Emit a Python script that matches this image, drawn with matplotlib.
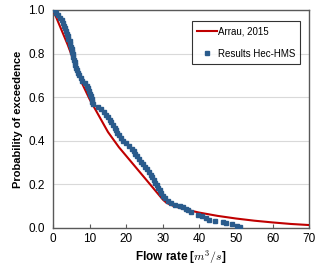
"Flow duration curve: Arrau 2015 vs Hec-HMS results"

import matplotlib
matplotlib.use("Agg")
import matplotlib.pyplot as plt

# Arrau, 2015 curve
arrau_flow = [0, 2, 4, 6, 8, 10, 12, 15, 18, 21, 24, 27, 30, 31, 33, 36,
              40, 45, 50, 55, 60, 65, 70]
arrau_prob = [1.0, 0.92, 0.84, 0.75, 0.66, 0.59, 0.53, 0.44, 0.37, 0.31,
              0.25, 0.19, 0.13, 0.115, 0.10, 0.085, 0.07, 0.055, 0.043,
              0.033, 0.025, 0.018, 0.013]

# Results Hec-HMS
hms_flow = [0.4, 0.9, 1.4, 1.9, 2.3, 2.7, 3.1, 3.3, 3.5, 3.8, 4.0, 4.2, 4.5,
            4.7, 4.9, 5.1, 5.2, 5.4, 5.5, 5.7, 5.9, 6.0, 6.3, 6.6, 6.9, 7.2,
            7.5, 8.0, 8.7, 9.2, 9.5, 9.7, 10.0, 10.4, 10.6, 10.7, 11.0, 12.2,
            13.1, 13.9, 14.4, 14.9, 15.5, 15.9, 16.4, 16.8, 17.2, 17.6, 18.1,
            18.6, 19.2, 19.9, 20.7, 21.5, 22.0, 22.5, 22.9, 23.4, 24.0, 24.6,
            25.1, 25.6, 26.2, 26.7, 27.1, 27.5, 27.9, 28.3, 28.7, 29.1, 29.5,
            30.0, 30.6, 31.3, 32.2, 33.4,
            34.6, 35.4, 36.2, 36.9, 37.8, 39.6, 40.6, 41.8, 42.6, 44.2, 46.4,
            47.4, 48.8, 50.2, 51.0]
hms_prob = [1.000, 0.988, 0.976, 0.964, 0.952, 0.940, 0.928, 0.916, 0.904,
            0.892, 0.880, 0.868, 0.856, 0.844, 0.832, 0.820, 0.808, 0.796,
            0.784, 0.772, 0.760, 0.748, 0.736, 0.724, 0.712, 0.700, 0.688,
            0.676, 0.664, 0.652, 0.640, 0.628, 0.616, 0.604, 0.592, 0.580,
            0.568, 0.556, 0.544, 0.532, 0.520, 0.508, 0.496, 0.484, 0.472,
            0.460, 0.448, 0.436, 0.424, 0.412, 0.400, 0.388, 0.376, 0.364,
            0.352, 0.340, 0.328, 0.316, 0.304, 0.292, 0.280, 0.268, 0.256,
            0.244, 0.232, 0.220, 0.208, 0.196, 0.184, 0.172, 0.160, 0.148,
            0.136, 0.124, 0.112, 0.104,
            0.100, 0.096, 0.088, 0.080, 0.072, 0.060, 0.054, 0.046, 0.038,
            0.032, 0.026, 0.022, 0.018, 0.010, 0.004]

x_ticks = [0, 10, 20, 30, 40, 50, 60, 70]
y_ticks = [0.0, 0.2, 0.4, 0.6, 0.8, 1.0]

plt.rcParams['font.family'] = ['Liberation Sans', 'DejaVu Sans']
plt.rcParams['mathtext.fontset'] = 'cm'

fig = plt.figure(figsize=(3.2, 2.7), dpi=100)
ax = fig.add_axes([0.166, 0.156, 0.800, 0.807])

ax.plot(arrau_flow, arrau_prob, color='#C00000', lw=1.5,
        label='Arrau, 2015', zorder=3)
ax.plot(hms_flow, hms_prob, ls='none', marker='s', ms=3.2,
        color='#2A5B8C', mec='#2A5B8C', label='Results Hec-HMS', zorder=4)

ax.set_xlim(0, 70)
ax.set_ylim(0, 1.0)
ax.set_xticks(x_ticks)
ax.set_yticks(y_ticks)
ax.set_yticklabels(['%.1f' % v for v in y_ticks])
ax.tick_params(axis='x', direction='in', length=3, labelsize=8.5,
               color='#595959', pad=4)
ax.tick_params(axis='y', length=0, labelsize=8.5, pad=6)
ax.grid(axis='y', color='#D9D9D9', lw=0.8)
ax.set_axisbelow(True)
for s in ax.spines.values():
    s.set_color('#595959')
    s.set_linewidth(1.0)

ax.set_xlabel('Flow rate [$m^3/s$]', fontsize=8.5, fontweight='bold',
              labelpad=2)
ax.set_ylabel('Probability of exceedence', fontsize=8, fontweight='bold',
              labelpad=4)

leg = ax.legend(loc='upper right', bbox_to_anchor=(0.985, 0.97),
                fontsize=7, frameon=True, fancybox=False,
                edgecolor='black', handlelength=2.0, handletextpad=0.15,
                borderpad=0.5, labelspacing=1.3, markerscale=0.7)
leg.get_frame().set_linewidth(0.8)

fig.savefig('out.png', dpi=100)
